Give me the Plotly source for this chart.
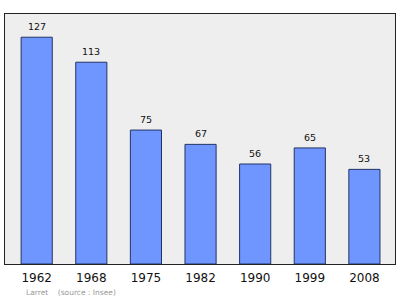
import plotly.graph_objects as go

years = ["1962", "1968", "1975", "1982", "1990", "1999", "2008"]
population = [127, 113, 75, 67, 56, 65, 53]
source_text = "Larret    (source : Insee)"

fig = go.Figure()
fig.add_trace(go.Bar(
    x=years, y=population,
    width=0.57,
    marker=dict(color="#6f96ff", line=dict(color="#223366", width=1)),
    hoverinfo="skip",
))

for i, v in enumerate(population):
    fig.add_annotation(x=i, y=v, text=str(v), showarrow=False,
                       yanchor="bottom", yshift=3,
                       font=dict(family="DejaVu Sans", size=9.5, color="#111111"))

fig.add_annotation(xref="paper", yref="paper", x=0.048, y=-0.115,
                   xanchor="left", yanchor="middle", text=source_text,
                   showarrow=False,
                   font=dict(family="DejaVu Sans", size=7.5, color="#999999"))

fig.update_layout(
    width=400, height=299,
    margin=dict(l=5, r=5, t=14, b=35),
    paper_bgcolor="white",
    plot_bgcolor="#eeeeee",
    showlegend=False,
)
fig.update_xaxes(type="category", range=[-0.58, 6.56],
                 showline=True, linecolor="#222222", linewidth=1.3, mirror=True,
                 ticks="outside", ticklen=2, tickcolor="rgba(0,0,0,0)", showgrid=False,
                 tickfont=dict(family="DejaVu Sans", size=12, color="#111111"))
fig.update_yaxes(range=[0, 140], showline=True, linecolor="#222222", linewidth=1.3,
                 mirror=True, showticklabels=False, ticks="", showgrid=False,
                 zeroline=False)

fig.write_html("out.html")
